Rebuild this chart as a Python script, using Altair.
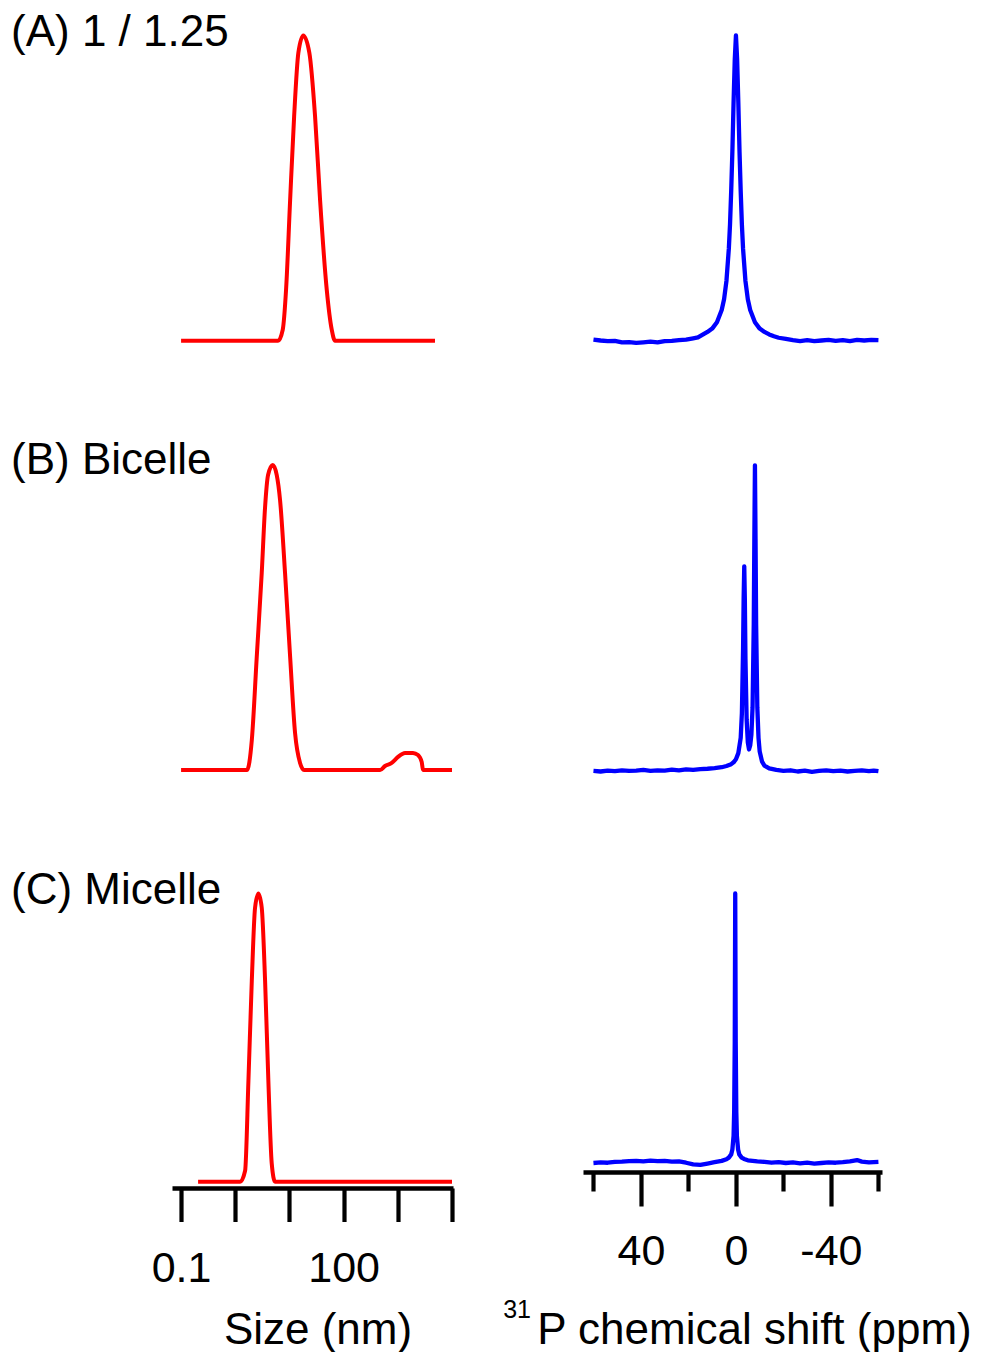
import altair as alt
import pandas as pd

# ---------------- data ----------------
# DLS size distributions (size in nm, intensity normalised to 100)
dls_a_size = [0.1, 6.17, 7.52, 8.66, 10.3, 12.2, 14.6, 18.0, 23.3, 29.7, 36.7, 48.8, 60.3, 69.4, 4850]
dls_a_int = [0, 0, 3.6, 16.7, 46.2, 73.5, 94.3, 100, 94.3, 73.5, 46.2, 16.7, 3.6, 0, 0]

dls_b_size = [0.1, 1.65, 2.02, 2.49, 3.08, 3.55, 4.03, 4.92, 5.83, 6.71, 8.29, 10.3, 12.7, 15.7, 18.6,
              470, 581, 771, 1009, 1358, 1905, 2358, 2761, 2917, 10000]
dls_b_int = [0, 0, 9.8, 37.0, 64.6, 86.2, 96.7, 100, 96.7, 88.5, 64.6, 37.0, 12.1, 2.3, 0,
             0, 1.3, 2.3, 4.3, 5.6, 5.6, 4.9, 2.6, 0, 0]

dls_c_size = [0.206, 1.23, 1.52, 1.75, 2.02, 2.32, 2.67, 3.08, 3.55, 4.08, 4.71, 5.42, 10000]
dls_c_int = [0, 0, 3.8, 35.1, 69.8, 95.1, 100, 95.1, 69.8, 35.1, 6.3, 0, 0]

# 31P NMR spectra (ppm, intensity normalised to 100)
nmr_a_ppm = [60, 57, 54, 51, 48, 45, 42, 39, 36, 33, 30, 27, 24, 21, 18, 16, 14, 12, 10, 8, 6, 5, 4, 3,
             2.5, 2, 1.5, 1, 0.5, 0, -0.5, -1, -1.5, -2, -2.5, -3, -4, -5, -6, -8, -10, -12, -14, -16,
             -18, -21, -24, -27, -30, -33, -36, -39, -42, -45, -48, -51, -54, -57, -60]
nmr_a_int = [0.3, 0.0, -0.2, -0.1, -0.6, -0.5, -0.8, -0.6, -0.4, -0.6, -0.2, -0.1, 0.1, 0.3, 0.7, 1.0,
             1.9, 2.8, 3.9, 6.0, 10, 13.5, 19.5, 30, 38, 49, 62, 78, 92, 100, 92, 78, 62, 49, 38, 30,
             19.5, 13.5, 10, 6.0, 3.9, 2.8, 2.0, 1.4, 0.9, 0.5, 0.1, -0.2, 0.1, -0.2, 0.0, 0.2, -0.1,
             0.1, -0.2, 0.2, 0.0, 0.2, 0.1]

nmr_b_ppm = [60, 57, 54, 51, 48, 45, 42, 39, 36, 33, 30, 27, 24, 21, 18, 15, 12, 9, 6, 4, 2, 1, 0, -1,
             -2, -2.5, -3, -3.25, -3.5, -3.75, -4, -4.5, -5, -5.5, -6, -6.5, -7, -7.5, -7.75, -8,
             -8.25, -8.5, -9, -9.5, -10, -11, -12, -14, -17, -20, -23, -26, -29, -32, -35, -38, -41,
             -44, -47, -50, -53, -56, -58, -60]
nmr_b_int = [0.2, 0.0, 0.3, 0.1, 0.4, 0.2, 0.3, 0.5, 0.2, 0.4, 0.3, 0.6, 0.4, 0.7, 0.5, 0.8, 0.9, 1.1,
             1.4, 1.8, 2.4, 3.0, 4.0, 6.0, 11, 19, 40, 57, 67, 56, 37, 17, 9.5, 7.2, 8.5, 12, 21, 48,
             76, 100, 76, 48, 21, 11, 6.5, 3.2, 1.9, 1.0, 0.5, 0.2, 0.4, 0.0, 0.3, -0.1, 0.2, 0.4,
             0.1, 0.3, 0.0, 0.2, 0.4, 0.1, 0.3, 0.1]

nmr_c_ppm = [60, 57, 54, 51, 48, 45, 42, 39, 36, 33, 30, 27, 24, 21, 18, 15, 12, 9, 6, 4, 3, 2, 1.5, 1,
             0.75, 0.5, 0.3, 0.1, -0.15, -0.4, -0.9, -1.4, -2.4, -3.4, -5, -7, -9, -12, -15, -18,
             -21, -24, -27, -30, -33, -36, -39, -42, -45, -48, -51, -53, -56, -60]
nmr_c_int = [0.0, 0.2, 0.1, 0.4, 0.5, 0.7, 0.8, 0.6, 0.9, 0.7, 0.8, 0.5, 0.6, 0.1, -0.5, -0.7, -0.2,
             0.3, 0.8, 1.4, 2.0, 3.2, 5, 10, 19, 45, 100, 45, 19, 10, 5, 3.2, 2.0, 1.5, 1.0, 0.8, 0.6,
             0.4, 0.1, 0.3, 0.0, 0.2, -0.1, 0.1, -0.2, 0.0, 0.2, 0.1, 0.3, 0.6, 1.1, 0.5, 0.2, 0.4]

panel_labels = ["(A) 1 / 1.25", "(B) Bicelle", "(C) Micelle"]
size_ticks = [0.1, 1, 10, 100, 1000, 10000]
ppm_major = [40, 0, -40]
ppm_minor = [60, 20, -20, -60]

# ---------------- styling / layout ----------------
FONT = "Liberation Sans"
RED = "#ff0000"
BLUE = "#0000ff"
W, H = 967, 1164

SIZE_DOMAIN = [0.068, 10430]
SIZE_RANGE = [164, 445]
PPM_DOMAIN = [64.4, -61.5]
PPM_RANGE = [575, 874]

# y pixel ranges [baseline, top] per panel
Y_LEFT = [[332.7, 27.5], [762, 457], [1173.7, 885.5]]
Y_RIGHT = [[332.5, 27.3], [763.5, 457.3], [1155, 885.5]]

axis_common = dict(
    grid=False, domainColor="black", domainWidth=4.5, tickColor="black", tickWidth=4.2,
    labelFont=FONT, labelColor="black", labelFontSize=43, labelBaseline="alphabetic",
    labelFlush=False, labelOverlap=False, titleFont=FONT, titleColor="black",
    titleFontSize=44, titleFontWeight="normal", titleBaseline="alphabetic", titleAlign="center",
)

size_axis = alt.Axis(
    orient="bottom", offset=16, values=size_ticks, tickSize=33.5, labelPadding=60,
    labelExpr="datum.value < 0.2 ? '0.1' : (datum.value > 50 && datum.value < 200 ? '100' : '')",
    title="Size (nm)", titleX=309.5, titleY=155, **axis_common,
)
ppm_axis = alt.Axis(
    orient="bottom", offset=0, values=ppm_major, tickSize=34, labelPadding=58.5,
    labelExpr="datum.value < 0 ? '-' + toString(abs(datum.value)) : toString(datum.value)",
    title="P chemical shift (ppm)", titleX=746, titleY=171, **axis_common,
)
ppm_minor_axis = alt.Axis(
    orient="bottom", offset=0, values=ppm_minor, tickSize=19, labels=False, domain=False,
    title="", grid=False, tickColor="black", tickWidth=4.2,
)


def dls_layer(sizes, ints, yrange, axis=None):
    df = pd.DataFrame({"size": sizes, "intensity": ints})
    return alt.Chart(df).mark_line(
        color=RED, strokeWidth=4, strokeJoin="round", interpolate="monotone"
    ).encode(
        x=alt.X("size:Q", scale=alt.Scale(type="log", domain=SIZE_DOMAIN, range=SIZE_RANGE, nice=False),
                axis=axis),
        y=alt.Y("intensity:Q", scale=alt.Scale(domain=[0, 100], range=yrange, zero=False, nice=False),
                axis=None),
    )


def nmr_layer(ppm, ints, yrange, axis=None):
    df = pd.DataFrame({"ppm": ppm, "intensity": ints})
    return alt.Chart(df).mark_line(color=BLUE, strokeWidth=4.3, strokeJoin="round").encode(
        x=alt.X("ppm:Q", scale=alt.Scale(domain=PPM_DOMAIN, range=PPM_RANGE, zero=False, nice=False),
                axis=axis),
        y=alt.Y("intensity:Q", scale=alt.Scale(domain=[0, 100], range=yrange, zero=False, nice=False),
                axis=None),
    )


def text_layer(text, x, y, size, align="left"):
    return alt.Chart(pd.DataFrame({"t": [text]})).mark_text(
        align=align, baseline="alphabetic", font=FONT, fontSize=size, color="black"
    ).encode(text="t:N", x=alt.value(x), y=alt.value(y))


layers = [
    dls_layer(dls_a_size, dls_a_int, Y_LEFT[0]),
    dls_layer(dls_b_size, dls_b_int, Y_LEFT[1]),
    dls_layer(dls_c_size, dls_c_int, Y_LEFT[2], axis=size_axis),
    nmr_layer(nmr_a_ppm, nmr_a_int, Y_RIGHT[0]),
    nmr_layer(nmr_b_ppm, nmr_b_int, Y_RIGHT[1], axis=ppm_minor_axis),
    nmr_layer(nmr_c_ppm, nmr_c_int, Y_RIGHT[2], axis=ppm_axis),
    text_layer(panel_labels[0], 3, 38, 44),
    text_layer(panel_labels[1], 3, 466, 44),
    text_layer(panel_labels[2], 3, 896, 44),
    text_layer("31", 523, 1310, 25, align="right"),
]

chart = alt.layer(*layers).resolve_scale(
    x="independent", y="independent"
).resolve_axis(
    x="independent", y="independent"
).properties(
    width=W, height=H, padding=0, background="white"
).configure_view(strokeWidth=0)

chart.save("out.html", embed_options={"renderer": "svg", "actions": False})
